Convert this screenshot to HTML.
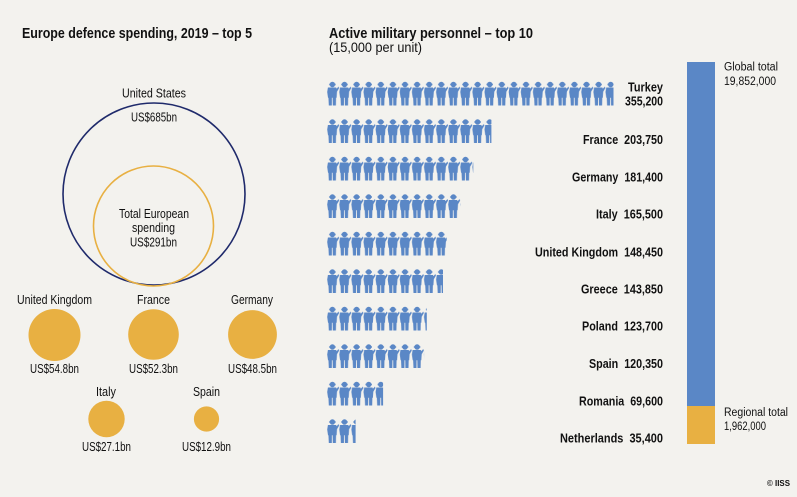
<!DOCTYPE html>
<html><head><meta charset="utf-8"><style>
html,body{margin:0;padding:0;background:#f3f2ee;}
svg{display:block;}
text{font-family:"Liberation Sans Narrow","Liberation Sans",sans-serif;fill:#111;}
.t{font-weight:bold;font-size:15px;}
.l{font-size:12.5px;}
.r{font-size:12.5px;font-weight:bold;}
.s{font-size:11.5px;}
</style></head><body>
<svg width="797" height="497" viewBox="0 0 797 497" xmlns="http://www.w3.org/2000/svg">
<defs>
<pattern id="sol" patternUnits="userSpaceOnUse" x="327" y="81.5" width="12.1" height="37.5">
 <g fill="#5a87c6">
  <ellipse cx="5.4" cy="3" rx="2.7" ry="2.8"/>
  <rect x="2.2" y="2.2" width="6.4" height="1.6"/>
  <path d="M0.9,6 L9.2,6 L9.6,7.2 L11.6,5 L12.1,6.6 L10,10.2 L9.6,16.2 L1,16.2 L0.2,10.5 Z"/>
  <path d="M1.4,15 L4.9,15 L4.8,24 L1.8,24 Z"/>
  <path d="M5.6,15 L9.1,15 L8.9,24 L5.8,24 Z"/>
 </g>
</pattern>
</defs>
<rect width="797" height="497" fill="#f3f2ee"/>

<!-- Titles -->
<text class="t" x="22" y="38" textLength="230" lengthAdjust="spacingAndGlyphs">Europe defence spending, 2019 – top 5</text>
<text class="t" x="329" y="38" textLength="204" lengthAdjust="spacingAndGlyphs">Active military personnel – top 10</text>
<text class="l" x="329" y="52" textLength="93" lengthAdjust="spacingAndGlyphs" style="font-size:14px">(15,000 per unit)</text>

<!-- Big circles -->
<circle cx="154" cy="194" r="91" fill="none" stroke="#1f2a6b" stroke-width="1.6"/>
<circle cx="153.5" cy="226" r="60" fill="none" stroke="#e8b042" stroke-width="1.6"/>
<text class="l" x="122" y="97.5" textLength="64" lengthAdjust="spacingAndGlyphs">United States</text>
<text class="l" x="131" y="121.5" textLength="46" lengthAdjust="spacingAndGlyphs">US$685bn</text>
<text class="l" x="119" y="218" textLength="70" lengthAdjust="spacingAndGlyphs">Total European</text>
<text class="l" x="132" y="232" textLength="43" lengthAdjust="spacingAndGlyphs">spending</text>
<text class="l" x="130" y="246.5" textLength="47" lengthAdjust="spacingAndGlyphs">US$291bn</text>

<!-- Small circles -->
<circle cx="54.5" cy="335" r="26" fill="#e8b042"/>
<circle cx="153.5" cy="334.5" r="25.3" fill="#e8b042"/>
<circle cx="252.5" cy="334.5" r="24.4" fill="#e8b042"/>
<circle cx="106.5" cy="419" r="18.2" fill="#e8b042"/>
<circle cx="206.5" cy="419" r="12.6" fill="#e8b042"/>

<text class="l" x="17" y="304" textLength="75" lengthAdjust="spacingAndGlyphs">United Kingdom</text>
<text class="l" x="137" y="304" textLength="33" lengthAdjust="spacingAndGlyphs">France</text>
<text class="l" x="231" y="304" textLength="42" lengthAdjust="spacingAndGlyphs">Germany</text>
<text class="l" x="30" y="373" textLength="49" lengthAdjust="spacingAndGlyphs">US$54.8bn</text>
<text class="l" x="129" y="373" textLength="49" lengthAdjust="spacingAndGlyphs">US$52.3bn</text>
<text class="l" x="228" y="373" textLength="49" lengthAdjust="spacingAndGlyphs">US$48.5bn</text>
<text class="l" x="96" y="396" textLength="20" lengthAdjust="spacingAndGlyphs">Italy</text>
<text class="l" x="193" y="396" textLength="27" lengthAdjust="spacingAndGlyphs">Spain</text>
<text class="l" x="82" y="451" textLength="49" lengthAdjust="spacingAndGlyphs">US$27.1bn</text>
<text class="l" x="182" y="451" textLength="49" lengthAdjust="spacingAndGlyphs">US$12.9bn</text>

<!-- Soldier rows -->
<rect x="327" y="81.5" width="286.5" height="24" fill="url(#sol)"/>
<rect x="327" y="119" width="164.4" height="24" fill="url(#sol)"/>
<rect x="327" y="156.5" width="146.3" height="24" fill="url(#sol)"/>
<rect x="327" y="194" width="133.5" height="24" fill="url(#sol)"/>
<rect x="327" y="231.5" width="119.7" height="24" fill="url(#sol)"/>
<rect x="327" y="269" width="116" height="24" fill="url(#sol)"/>
<rect x="327" y="306.5" width="99.8" height="24" fill="url(#sol)"/>
<rect x="327" y="344" width="97.1" height="24" fill="url(#sol)"/>
<rect x="327" y="381.5" width="56.1" height="24" fill="url(#sol)"/>
<rect x="327" y="419" width="28.6" height="24" fill="url(#sol)"/>

<!-- Row labels -->
<text class="r" x="628" y="91.5" textLength="35" lengthAdjust="spacingAndGlyphs">Turkey</text>
<text class="r" x="625" y="105.5" textLength="38" lengthAdjust="spacingAndGlyphs">355,200</text>
<text class="r" x="583" y="144" textLength="80" lengthAdjust="spacingAndGlyphs" xml:space="preserve">France  203,750</text>
<text class="r" x="572" y="181.5" textLength="91" lengthAdjust="spacingAndGlyphs" xml:space="preserve">Germany  181,400</text>
<text class="r" x="596" y="218.5" textLength="67" lengthAdjust="spacingAndGlyphs" xml:space="preserve">Italy  165,500</text>
<text class="r" x="535" y="256.5" textLength="128" lengthAdjust="spacingAndGlyphs" xml:space="preserve">United Kingdom  148,450</text>
<text class="r" x="581" y="293.5" textLength="82" lengthAdjust="spacingAndGlyphs" xml:space="preserve">Greece  143,850</text>
<text class="r" x="582" y="330.5" textLength="81" lengthAdjust="spacingAndGlyphs" xml:space="preserve">Poland  123,700</text>
<text class="r" x="589" y="368" textLength="74" lengthAdjust="spacingAndGlyphs" xml:space="preserve">Spain  120,350</text>
<text class="r" x="579" y="405.5" textLength="84" lengthAdjust="spacingAndGlyphs" xml:space="preserve">Romania  69,600</text>
<text class="r" x="560" y="442.5" textLength="103" lengthAdjust="spacingAndGlyphs" xml:space="preserve">Netherlands  35,400</text>

<!-- Stacked bar -->
<rect x="687" y="62" width="28" height="344" fill="#5a87c6"/>
<rect x="687" y="406" width="28" height="38" fill="#e8b042"/>
<text class="s" x="724" y="70.5" textLength="54" lengthAdjust="spacingAndGlyphs">Global total</text>
<text class="s" x="724" y="85" textLength="52" lengthAdjust="spacingAndGlyphs">19,852,000</text>
<text class="s" x="724" y="416" textLength="64" lengthAdjust="spacingAndGlyphs">Regional total</text>
<text class="s" x="724" y="430" textLength="42" lengthAdjust="spacingAndGlyphs">1,962,000</text>

<text x="767" y="486" style="font-size:8.5px;font-weight:bold" textLength="23" lengthAdjust="spacingAndGlyphs">© IISS</text>
</svg>
</body></html>
